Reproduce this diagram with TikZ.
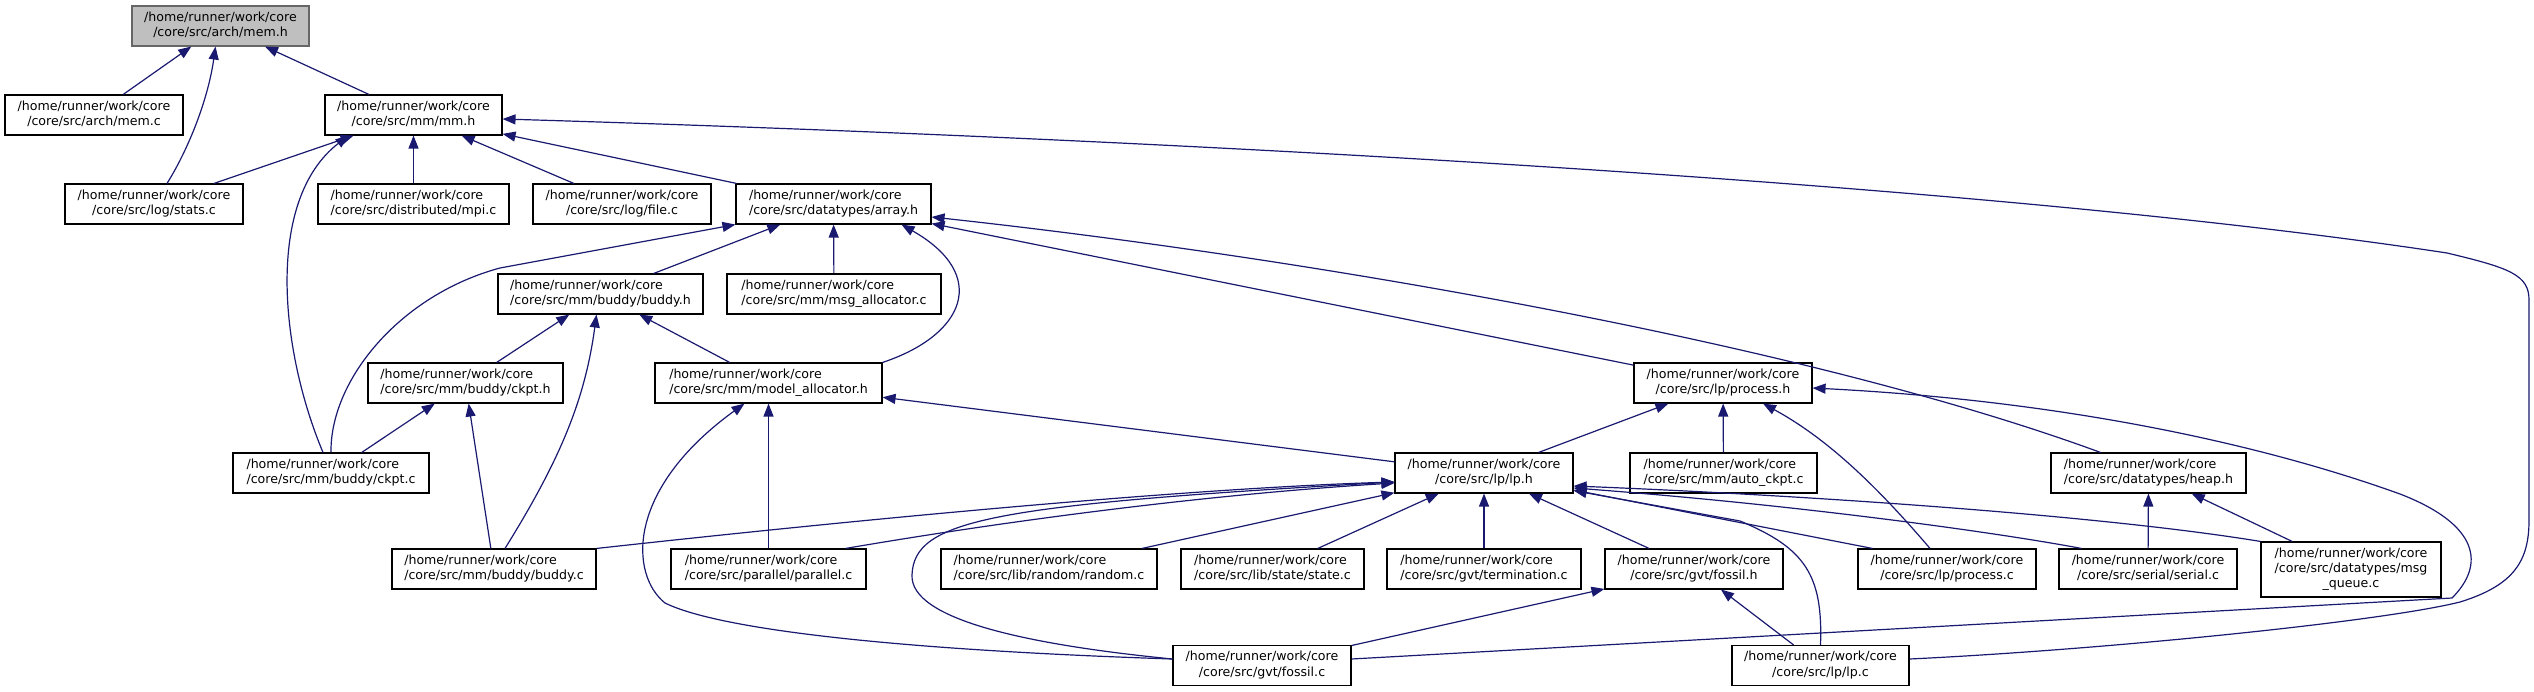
\documentclass[tikz,border=0pt]{standalone}
\usepackage{fontspec}
\setmainfont{DejaVu Sans}
\usepackage{tikz}
\usetikzlibrary{arrows.meta, positioning}
\definecolor{edgeblue}{RGB}{25,25,112}
\definecolor{rootfill}{RGB}{191,191,191}
\definecolor{rootline}{RGB}{102,102,102}
\newcommand{\dlab}[2]{\begin{tabular}{@{}l@{}}#1\\\multicolumn{1}{@{}c@{}}{#2}\end{tabular}}
\tikzset{
    filebox/.style={draw=black, fill=white, line width=1.1pt, inner sep=0pt, minimum height=40pt, font=\fontsize{12.6}{15.2}\selectfont},
    rootbox/.style={filebox, draw=rootline, fill=rootfill},
    incl/.style={draw=edgeblue, line width=1.2pt, -{Triangle[length=13pt, width=10pt]}}
}

\begin{document}
\begin{tikzpicture}[x=1pt, y=-1pt]
    \useasboundingbox (0,0) rectangle (2534,692);
    \node[rootbox, minimum width=177pt] (memh) at (220.5,26) {\dlab{/home/runner/work/core}{/core/src/arch/mem.h}};
    \foreach \nm/\cx/\cy/\bw/\lab in {memc/94/115/178/{arch/mem.c}, mmh/413.5/115/177/{mm/mm.h}, statsc/154/204/178/{log/stats.c}, mpic/413.5/204/191/{distributed/mpi.c}, filec/622/204/178/{log/file.c}, arrayh/833.5/204/195/{datatypes/array.h}, buddyh/600.5/294/205/{mm/buddy/buddy.h}, msgallocc/834/294/214/{mm/msg\_allocator.c}, ckpth/465.5/383/195/{mm/buddy/ckpt.h}, modelalloch/768.5/383/227/{mm/model\_allocator.h}, processh/1723/383/178/{lp/process.h}, ckptc/331/473/196/{mm/buddy/ckpt.c}, lph/1484/473/178/{lp/lp.h}, autockptc/1723.5/473/187/{mm/auto\_ckpt.c}, heaph/2148.5/473/195/{datatypes/heap.h}, buddyc/494/569/204/{mm/buddy/buddy.c}, parallelc/768.5/569/195/{parallel/parallel.c}, randomc/1049/569/216/{lib/random/random.c}, statec/1272.5/569/183/{lib/state/state.c}, terminationc/1484/569/194/{gvt/termination.c}, fossilh/1694/569/178/{gvt/fossil.h}, processc/1947/569/178/{lp/process.c}, serialc/2148/569/178/{serial/serial.c}, fossilc/1262/665.5/178/{gvt/fossil.c}, lpc/1820.5/665.5/177/{lp/lp.c}} {
        \node[filebox, minimum width=\bw pt] (\nm) at (\cx,\cy) {\dlab{/home/runner/work/core}{/core/src/\lab}};
    }
    \node[filebox, minimum width=180pt, minimum height=55pt] (msgqueuec) at (2351,569.5) {\dlab{/home/runner/work/core\\/core/src/datatypes/msg}{\_queue.c}};
    \foreach \src/\dst in {memc/memh, mmh/memh, statsc/mmh, mpic/mmh, filec/mmh, arrayh/mmh, buddyh/arrayh, msgallocc/arrayh, processh/arrayh, ckpth/buddyh, modelalloch/buddyh, ckptc/ckpth, buddyc/ckpth, lph/modelalloch, parallelc/modelalloch, lph/processh, autockptc/processh, randomc/lph, statec/lph, terminationc/lph, fossilh/lph, serialc/heaph, msgqueuec/heaph, fossilc/fossilh, lpc/fossilh} {
        \draw[incl] (\src) -- (\dst);
    }
    \draw[incl] ([xshift=13pt]statsc.north) .. controls (188,150) and (208,100) .. ([xshift=-5pt]memh.south);
    \draw[incl] ([xshift=-8pt]ckptc.north) .. controls (280,350) and (265,200) .. ([xshift=-65pt]mmh.south);
    \draw[incl] (ckptc.north) .. controls (330,380) and (400,295) .. (500,268) -- (arrayh.south west);
    \draw[incl] (modelalloch.north east) .. controls (965,335) and (990,275) .. ([xshift=68pt]arrayh.south);
    \draw[incl] ([xshift=-48pt]heaph.north) .. controls (1800,342) and (1300,257) .. ([yshift=-13pt]arrayh.east);
    \draw[incl] ([xshift=11pt]buddyc.north) .. controls (560,460) and (585,400) .. ([xshift=-4pt]buddyh.south);
    \draw[incl] ([yshift=6.5pt]fossilc.west) .. controls (900,650) and (720,630) .. (665,603) .. controls (630,575) and (625,490) .. ([xshift=-24pt]modelalloch.south);
    \draw[incl] ([xshift=-17pt]processc.north) .. controls (1880,490) and (1830,440) .. ([xshift=40pt]processh.south);
    \draw[incl] ([yshift=6.5pt]fossilc.east) -- (2452,598) .. controls (2485,565) and (2480,525) .. (2400,494) .. controls (2250,440) and (2050,400) .. ([yshift=-5pt]processh.east);
    \draw[incl] ([yshift=6.5pt]fossilc.west) .. controls (1030,645) and (910,620) .. (912,575) .. controls (914,520) and (990,505) .. ([yshift=-9pt]lph.west);
    \draw[incl] (buddyc.north east) .. controls (900,515) and (1200,488) .. ([yshift=-9pt]lph.west);
    \draw[incl] ([xshift=-21pt]parallelc.north east) .. controls (1000,522) and (1200,495) .. ([yshift=-10pt]lph.west);
    \draw[incl] ([xshift=15pt]processc.north west) -- ([yshift=-17pt]lph.east);
    \draw[incl] ([xshift=23pt]serialc.north west) .. controls (2000,533) and (1800,505) .. ([yshift=-15pt]lph.east);
    \draw[incl] (msgqueuec.north west) .. controls (2100,515) and (1800,495) .. ([yshift=-13pt]lph.east);
    \draw[incl] (lpc.north) .. controls (1823,575) and (1805,548) .. (1740,521) -- ([yshift=3pt]lph.south east);
    \draw[incl] ([yshift=6.5pt]lpc.east) .. controls (2100,650) and (2380,622) .. (2460,602) .. controls (2515,585) and (2529,560) .. (2529,520) -- (2529,300) .. controls (2529,275) and (2510,268) .. (2447,253) .. controls (2000,185) and (1200,140) .. ([yshift=-4pt]mmh.east);
\end{tikzpicture}
\end{document}
